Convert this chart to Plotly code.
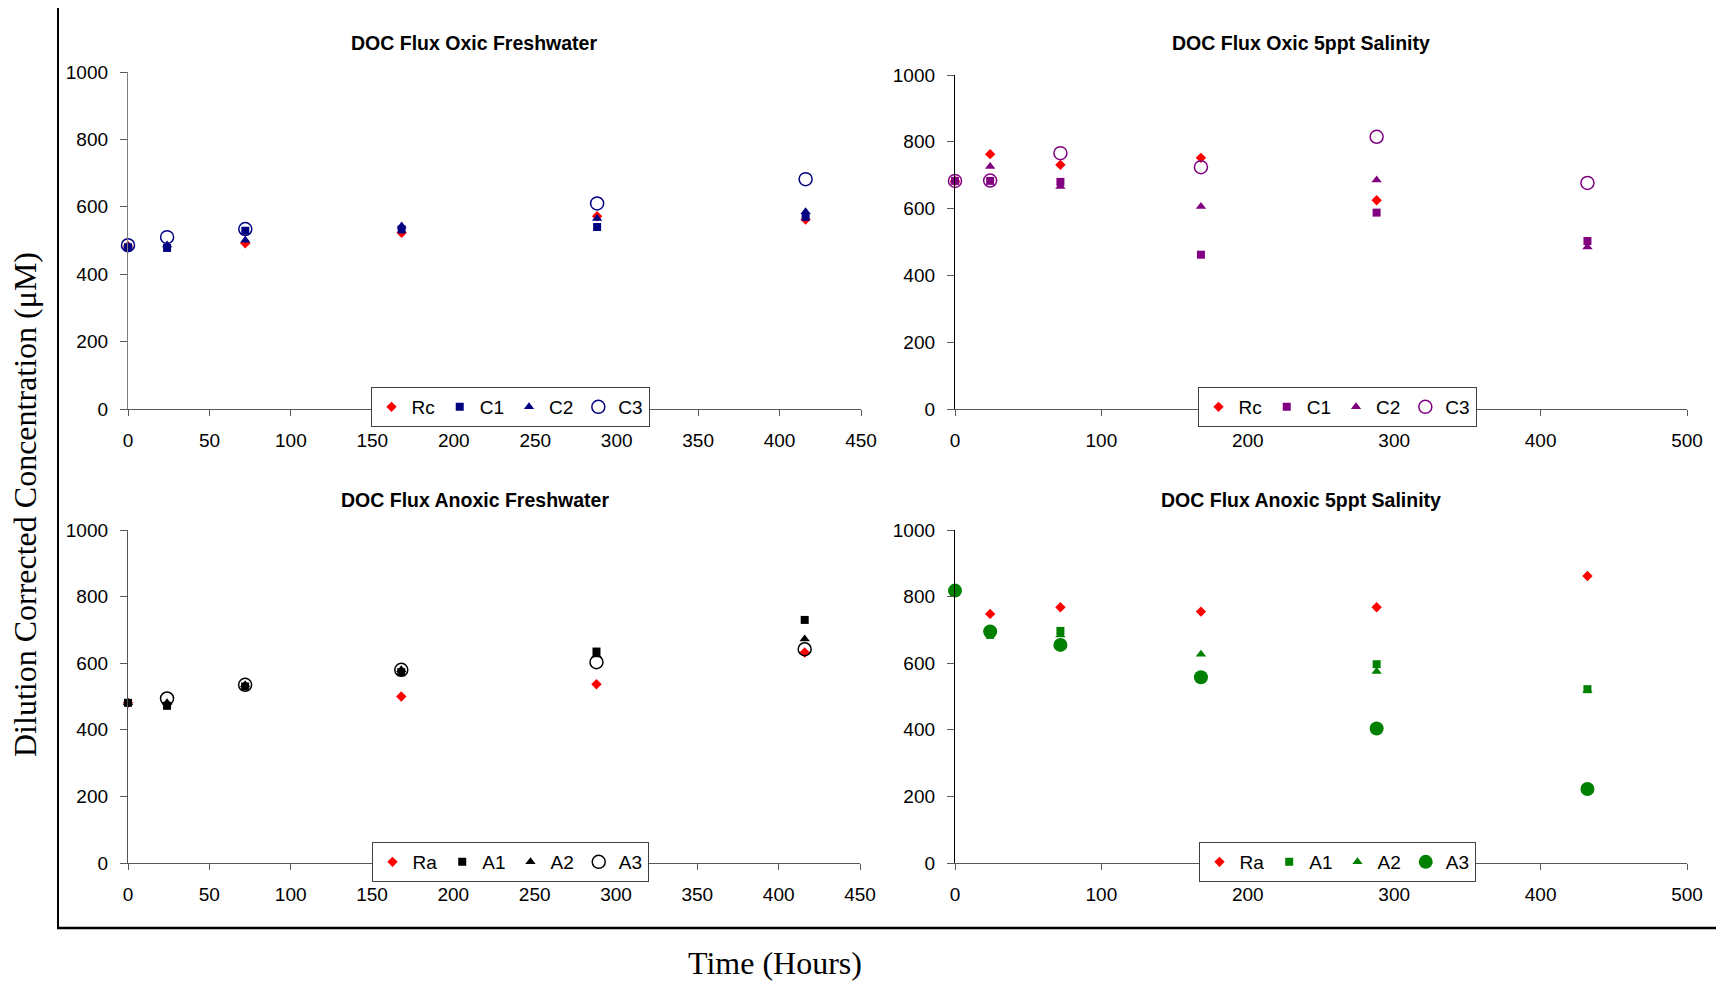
import plotly.graph_objects as go

W, H = 1720, 985

# ---------------- data ----------------
t_fresh = [0, 24, 72, 168, 288, 416]
t_salt = [0, 24, 72, 168, 288, 432]

oxic_fresh_Rc = [483, None, 492, 523, 572, 562]
oxic_fresh_C1 = [480, 478, 529, 533, 540, 570]
oxic_fresh_C2 = [483, 487, 501, 543, 565, 585]
oxic_fresh_C3 = [486, 510, 534, None, 610, 682]

oxic_salt_Rc = [683, 763, 731, 752, 625, None]
oxic_salt_C1 = [683, 683, 680, 462, 588, 503]
oxic_salt_C2 = [683, 726, 666, 606, 686, 485]
oxic_salt_C3 = [683, 684, 766, 724, 815, 677]

anoxic_fresh_Ra = [481, None, None, 500, 537, 632]
anoxic_fresh_A1 = [481, 472, 530, 573, 635, 730]
anoxic_fresh_A2 = [481, 481, 535, 580, 625, 673]
anoxic_fresh_A3 = [None, 494, 535, 580, 603, 642]

anoxic_salt_Ra = [None, 748, 768, 755, 768, 862]
anoxic_salt_A1 = [818, 685, 697, None, 597, 522]
anoxic_salt_A2 = [818, 690, 685, 627, 575, 518]
anoxic_salt_A3 = [818, 695, 655, 558, 404, 222]

titles = ["DOC Flux Oxic Freshwater", "DOC Flux Oxic 5ppt Salinity",
          "DOC Flux Anoxic Freshwater", "DOC Flux Anoxic 5ppt Salinity"]
names_oxic = ["Rc", "C1", "C2", "C3"]
names_anoxic = ["Ra", "A1", "A2", "A3"]
y_title = "Dilution Corrected Concentration (\u03bcM)"
x_title = "Time (Hours)"

# --------------- helpers ---------------
def px(x):
    return x / W

def py(y):
    return 1 - y / H

RED = "#FF0000"
NAVY = "#000080"
PURPLE = "#800080"
BLACK = "#000000"
GREEN = "#008000"

fig = go.Figure()

panels = [
    ("x", "y", "legend", t_fresh,
     [oxic_fresh_Rc, oxic_fresh_C1, oxic_fresh_C2, oxic_fresh_C3], names_oxic, NAVY, False),
    ("x2", "y2", "legend2", t_salt,
     [oxic_salt_Rc, oxic_salt_C1, oxic_salt_C2, oxic_salt_C3], names_oxic, PURPLE, False),
    ("x3", "y3", "legend3", t_fresh,
     [anoxic_fresh_Ra, anoxic_fresh_A1, anoxic_fresh_A2, anoxic_fresh_A3], names_anoxic, BLACK, False),
    ("x4", "y4", "legend4", t_salt,
     [anoxic_salt_Ra, anoxic_salt_A1, anoxic_salt_A2, anoxic_salt_A3], names_anoxic, GREEN, True),
]

for xa, ya, lg, tt, series, names, col, filled in panels:
    specs = [
        dict(symbol="diamond", color=RED, size=8),
        dict(symbol="square", color=col, size=8),
        dict(symbol="triangle-up", color=col, size=9),
        (dict(symbol="circle", color=col, size=14) if filled else
         dict(symbol="circle-open", color=col, size=13, line=dict(width=1.5, color=col))),
    ]
    for vals, nm, mk in zip(series, names, specs):
        fig.add_trace(go.Scatter(
            x=tt, y=vals, name=nm, mode="markers", marker=mk,
            xaxis=xa, yaxis=ya, legend=lg, cliponaxis=False,
            hoverinfo="x+y+name",
        ))

# axes geometry (pixels): (left, right, top(1000), bottom(0))
geo = {
    "": (128, 861, 72, 409),
    "2": (955, 1687, 75, 409),
    "3": (128, 860, 530, 863),
    "4": (955, 1687, 530, 863),
}
xmax = {"": 450, "2": 500, "3": 450, "4": 500}
xdt = {"": 50, "2": 100, "3": 50, "4": 100}
ycol = {"": "#7f7f7f", "2": "#000000", "3": "#555555", "4": "#000000"}

tickfont = dict(family="Liberation Sans, Arial", size=19, color="black")
for k, (l, r, t, b) in geo.items():
    fig.layout["xaxis" + k] = dict(
        domain=[px(l), px(r)], range=[0, xmax[k]], dtick=xdt[k], tick0=0,
        anchor="y" + k, showgrid=False, zeroline=False, showline=True,
        linecolor="#595959", linewidth=1.3, ticks="outside", ticklen=6,
        tickcolor="#595959", tickwidth=1, tickfont=tickfont, ticklabelstandoff=8,
        fixedrange=True,
    )
    fig.layout["yaxis" + k] = dict(
        domain=[py(b), py(t)], range=[0, 1000], dtick=200, tick0=0,
        anchor="x" + k, showgrid=False, zeroline=False, showline=True,
        linecolor=ycol[k], linewidth=1.3, ticks="outside", ticklen=7,
        tickcolor="#595959", tickwidth=1, tickfont=tickfont, ticklabelstandoff=8,
        fixedrange=True,
    )

# legend centres (pixels)
legend_pos = [(510, 407), (1337, 407), (510, 862), (1337, 862)]
for i, (cx, cy) in enumerate(legend_pos):
    lgd = dict(orientation="h", x=px(cx), xanchor="center",
               y=py(cy), yanchor="middle",
               bgcolor="white", bordercolor="#404040", borderwidth=1,
               font=dict(family="Liberation Sans, Arial", size=19, color="black"),
               itemclick=False, itemdoubleclick=False, tracegroupgap=0)
    fig.layout["legend" if i == 0 else "legend%d" % (i + 1)] = lgd

shapes = []
# outer frame lines
shapes.append(dict(type="line", xref="paper", yref="paper",
                   x0=px(58), x1=px(58), y0=py(8), y1=py(928),
                   line=dict(color="black", width=2)))
shapes.append(dict(type="line", xref="paper", yref="paper",
                   x0=px(57), x1=px(1716), y0=py(928), y1=py(928),
                   line=dict(color="black", width=2.5)))

annotations = []
title_pos = [(474, 43), (1301, 43), (475, 500), (1301, 500)]
for txt, (cx, cy) in zip(titles, title_pos):
    annotations.append(dict(text="<b>%s</b>" % txt, xref="paper", yref="paper",
                            x=px(cx), y=py(cy), xanchor="center", yanchor="middle",
                            showarrow=False,
                            font=dict(family="Liberation Sans, Arial", size=19.5, color="black")))
annotations.append(dict(text=y_title, xref="paper", yref="paper", x=px(25), y=py(505),
                        xanchor="center", yanchor="middle", textangle=-90, showarrow=False,
                        font=dict(family="Liberation Serif, Times New Roman", size=32, color="black")))
annotations.append(dict(text=x_title, xref="paper", yref="paper", x=px(775), y=py(963),
                        xanchor="center", yanchor="middle", showarrow=False,
                        font=dict(family="Liberation Serif, Times New Roman", size=32, color="black")))

fig.update_layout(
    width=W, height=H, margin=dict(l=0, r=0, t=0, b=0, autoexpand=False),
    paper_bgcolor="white", plot_bgcolor="white",
    shapes=shapes, annotations=annotations, showlegend=True,
)

fig.write_html("out.html", config={"displayModeBar": False})
